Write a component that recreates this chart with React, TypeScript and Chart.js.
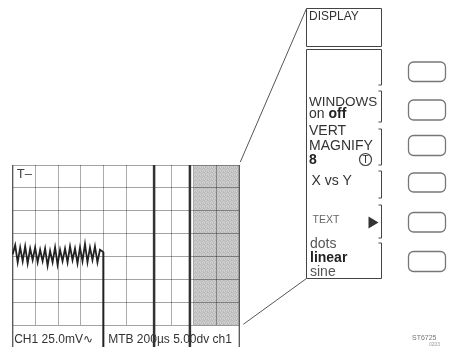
import React, { useEffect, useRef } from "react";
import { Chart, registerables } from "chart.js";

Chart.register(...registerables);

// ---- data ----
const gridColumns = 10;
const gridRows = 7;
const hiddenGridColumns = [6];
const traceX = [0, 0.11, 0.22, 0.33, 0.44, 0.55, 0.66, 0.77, 0.88, 0.99, 1.1, 1.21, 1.32, 1.43, 1.54, 1.65, 1.76, 1.87, 1.98, 2.09, 2.2, 2.31, 2.42, 2.53, 2.64, 2.75, 2.86, 2.97, 3.08, 3.19, 3.3, 3.41, 3.52, 3.63, 3.74, 3.85, 4.0];
const traceY = [3.1, 3.5, 2.75, 3.4, 2.8, 3.45, 2.7, 3.35, 2.85, 3.4, 2.75, 3.3, 2.8, 3.35, 2.6, 3.25, 2.75, 3.4, 2.65, 3.3, 2.8, 3.35, 2.75, 3.45, 2.85, 3.35, 2.7, 3.4, 2.8, 3.55, 2.75, 3.4, 2.85, 3.45, 2.75, 3.3, 3.2];
const dropX = [4, 4];
const dropY = [3.2, -1];
const cursorPositions = [6.24, 7.82];
const shadedRange = [8, 10];
const frameEdges = [0, 10];
const lowerLimit = -1;

const cornerLabel = "T\u2013";
const statusLeft = "CH1 25.0mV\u223F";
const statusRight = "MTB 200\u00B5s 5.00dv ch1";
const menuTitle = "DISPLAY";
const figureCode = "ST6725";
const figureSub = "0203";

const FONT = "'Liberation Sans', Arial, Helvetica, sans-serif";

function drawText(ctx: CanvasRenderingContext2D, text: string, x: number, y: number, size: number, color: string, bold = false) {
  ctx.font = `${bold ? "bold " : ""}${size}px ${FONT}`;
  ctx.fillStyle = color;
  ctx.textBaseline = "alphabetic";
  ctx.textAlign = "left";
  ctx.fillText(text, x, y);
  return ctx.measureText(text).width;
}

function makePattern(ctx: CanvasRenderingContext2D) {
  const c = document.createElement("canvas");
  c.width = 4; c.height = 4;
  const p = c.getContext("2d")!;
  p.fillStyle = "#c9c9c9";
  p.fillRect(0, 0, 4, 4);
  p.fillStyle = "#b9b9b9";
  [[0, 0], [2, 1], [1, 2], [3, 3], [3, 0], [1, 3]].forEach(([x, y]) => p.fillRect(x, y, 1, 1));
  p.fillStyle = "#d4d4d4";
  [[2, 2], [0, 3]].forEach(([x, y]) => p.fillRect(x, y, 1, 1));
  return ctx.createPattern(c, "repeat") || "#c6c6c6";
}

const shadePlugin = {
  id: "shade",
  beforeDraw(chart: any) {
    const { ctx, scales } = chart;
    const x0 = scales.x.getPixelForValue(shadedRange[0]);
    const x1 = scales.x.getPixelForValue(shadedRange[1]);
    const y0 = scales.y.getPixelForValue(gridRows);
    const y1 = scales.y.getPixelForValue(0);
    ctx.save();
    ctx.fillStyle = makePattern(ctx);
    ctx.fillRect(x0, y0, x1 - x0, y1 - y0);
    ctx.restore();
  },
};

const annotPlugin = {
  id: "annot",
  afterDraw(chart: any) {
    const { ctx, chartArea } = chart;
    ctx.save();
    drawText(ctx, cornerLabel, chartArea.left + 4, chartArea.top + 13, 13, "#444");
    drawText(ctx, statusLeft, chartArea.left + 1.5, chartArea.bottom + 18, 12, "#333");
    drawText(ctx, statusRight, chartArea.left + 95.5, chartArea.bottom + 18, 12, "#333");

    const L = 306.5, R = 381.5;
    ctx.strokeStyle = "#444";
    ctx.lineWidth = 1;
    ctx.beginPath();
    ctx.rect(L, 8.5, R - L, 38);
    ctx.stroke();
    drawText(ctx, menuTitle, 309, 20, 12, "#333");

    ctx.beginPath();
    ctx.moveTo(L, 49.5); ctx.lineTo(R, 49.5);
    ctx.moveTo(L, 49.5); ctx.lineTo(L, 278.5); ctx.lineTo(R, 278.5);
    ctx.stroke();
    const brackets = [[49.5, 85], [91, 122], [129, 165], [171, 198], [205, 238], [243, 278.5]];
    ctx.beginPath();
    brackets.forEach(([a, b], i) => {
      if (i > 0) { ctx.moveTo(R - 3, a); ctx.lineTo(R, a); }
      ctx.moveTo(R, a); ctx.lineTo(R, b);
      if (i < brackets.length - 1) { ctx.lineTo(R - 3, b); }
    });
    ctx.stroke();

    drawText(ctx, "WINDOWS", 309, 106, 13.5, "#333");
    const w = drawText(ctx, "on ", 309, 118, 14, "#333");
    drawText(ctx, "off", 309 + w, 118, 14, "#222", true);
    drawText(ctx, "VERT", 309, 135, 14, "#333");
    drawText(ctx, "MAGNIFY", 309, 150, 14, "#333");
    drawText(ctx, "8", 309, 164, 14, "#222", true);
    ctx.beginPath();
    ctx.arc(365.5, 159.5, 6, 0, Math.PI * 2);
    ctx.lineWidth = 1.2;
    ctx.stroke();
    ctx.font = `10px ${FONT}`;
    ctx.fillStyle = "#222";
    ctx.textAlign = "center";
    ctx.textBaseline = "middle";
    ctx.fillText("T", 365.5, 160);
    drawText(ctx, "X vs Y", 311.5, 185, 14, "#333");
    drawText(ctx, "TEXT", 312.5, 223, 10.5, "#666");
    ctx.fillStyle = "#333";
    ctx.beginPath();
    ctx.moveTo(368.5, 216.5); ctx.lineTo(378.5, 222.5); ctx.lineTo(368.5, 228.5); ctx.closePath();
    ctx.fill();
    drawText(ctx, "dots", 310, 248, 14, "#555");
    drawText(ctx, "linear", 310, 261.5, 14, "#222", true);
    drawText(ctx, "sine", 310, 276, 14, "#555");

    const keys = [[62, 81.5], [100, 120], [135.5, 155.5], [173, 192], [212.5, 232], [251.5, 271.5]];
    ctx.strokeStyle = "#777";
    ctx.lineWidth = 1.3;
    keys.forEach(([a, b]) => {
      ctx.beginPath();
      (ctx as any).roundRect(408.5, a, 37, b - a, 5);
      ctx.stroke();
    });

    ctx.strokeStyle = "#555";
    ctx.lineWidth = 1;
    ctx.beginPath();
    ctx.moveTo(L, 8.5); ctx.lineTo(chartArea.right + 1, chartArea.top - 3);
    ctx.moveTo(L, 278.5); ctx.lineTo(chartArea.right + 4, chartArea.bottom - 1);
    ctx.stroke();

    drawText(ctx, figureCode, 412, 340, 7, "#777");
    drawText(ctx, figureSub, 429, 346, 5, "#999");
    ctx.restore();
  },
};

export default function App() {
  const ref = useRef<HTMLCanvasElement | null>(null);
  useEffect(() => {
    if (!ref.current) return;
    const line = (xs: number[], ys: number[], color: string, width: number) => ({
      data: xs.map((x, i) => ({ x, y: ys[i] })),
      borderColor: color,
      borderWidth: width,
      pointRadius: 0,
      tension: 0,
      fill: false,
      clip: false as any,
    });
    const datasets: any[] = [
      line(traceX, traceY, "#222", 1.8),
      line(dropX, dropY, "#222", 2),
      ...cursorPositions.map((c) => line([c, c], [gridRows, lowerLimit], "#333", 2.5)),
      ...frameEdges.map((e) => line([e, e], [gridRows, lowerLimit], "#555", 1.3)),
    ];
    const chart = new Chart(ref.current, {
      type: "line",
      data: { datasets },
      options: {
        animation: false,
        responsive: false,
        devicePixelRatio: 1,
        events: [],
        layout: { padding: { left: 12.7, top: 165, right: 210.7, bottom: 21.7 } },
        plugins: { legend: { display: false }, tooltip: { enabled: false } },
        scales: {
          x: {
            type: "linear",
            min: 0,
            max: gridColumns,
            ticks: { display: false, stepSize: 1 },
            grid: {
              drawTicks: false,
              lineWidth: 1,
              color: (c: any) => (hiddenGridColumns.includes(c.tick?.value) ? "rgba(0,0,0,0)" : "rgba(0,0,0,0.33)"),
            },
            border: { display: false },
            afterFit: (s: any) => { s.height = 0; },
          },
          y: {
            type: "linear",
            min: 0,
            max: gridRows,
            ticks: { display: false, stepSize: 1 },
            grid: { drawTicks: false, lineWidth: 1, color: "rgba(0,0,0,0.36)" },
            border: { display: false },
            afterFit: (s: any) => { s.width = 0; },
          },
        },
      } as any,
      plugins: [shadePlugin, annotPlugin],
    });
    return () => chart.destroy();
  }, []);
  return (
    <div style={{ position: "absolute", left: 0, top: 0, width: 450, height: 347, background: "#fff" }}>
      <canvas ref={ref} width={450} height={347} />
    </div>
  );
}
